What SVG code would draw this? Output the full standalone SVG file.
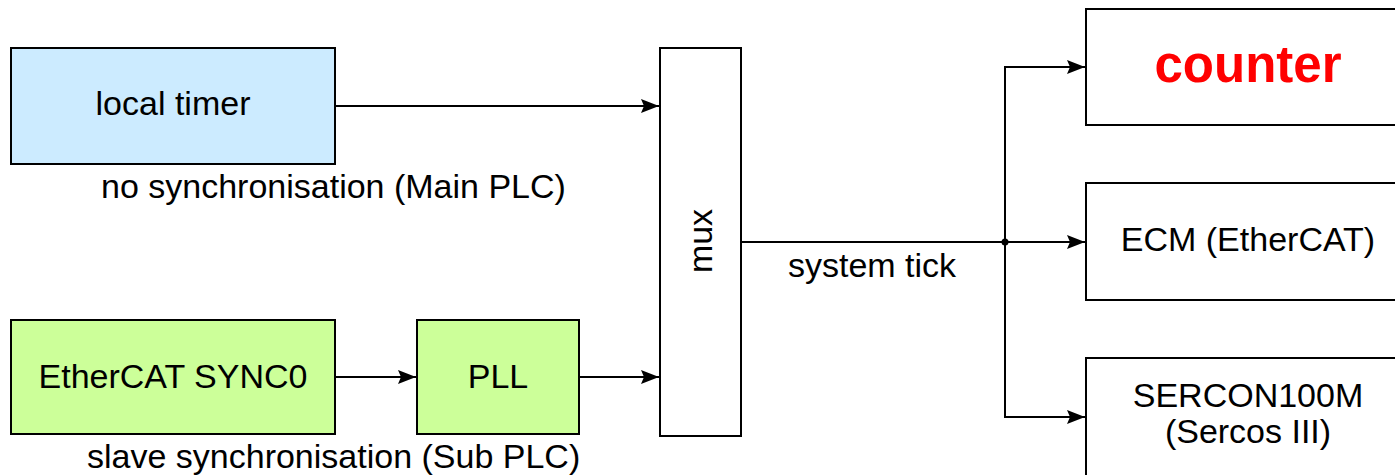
<svg xmlns="http://www.w3.org/2000/svg" width="1395" height="475" viewBox="0 0 1395 475">
<style>
.box{stroke:#000;stroke-width:2}
.t{font-family:"Liberation Sans",Arial,sans-serif;font-size:34px;fill:#000}
.c{text-anchor:middle}
.w{fill:#fff}
.line{fill:none;stroke:#000;stroke-width:2}
</style>
<defs>
<marker id="ah" viewBox="0 0 18 14" refX="18" refY="7" markerWidth="18" markerHeight="14" markerUnits="userSpaceOnUse" orient="auto">
<path d="M0,0 L18,7 L0,14 L3,7 Z" fill="#000"/>
</marker>
</defs>
<rect width="1395" height="475" fill="#fff"/>
<g id="local-timer">
<rect class="box" x="11" y="48" width="324" height="116" fill="#CCEBFF"/>
<text class="t c" x="173" y="115">local timer</text>
</g>
<text class="t" x="101" y="198">no synchronisation (Main PLC)</text>
<g id="ethercat-sync0">
<rect class="box" x="11" y="320" width="324" height="114" fill="#CCFF99"/>
<text class="t c" x="173" y="388">EtherCAT SYNC0</text>
</g>
<g id="pll">
<rect class="box" x="417" y="320" width="162" height="114" fill="#CCFF99"/>
<text class="t c" x="498" y="388">PLL</text>
</g>
<text class="t" x="87" y="468">slave synchronisation (Sub PLC)</text>
<g id="mux">
<rect class="box w" x="660" y="48" width="81" height="388"/>
<text class="t c" transform="translate(712,241) rotate(-90)">mux</text>
</g>
<g id="counter">
<rect class="box w" x="1086" y="9" width="320" height="116"/>
<text x="1248" y="82" text-anchor="middle" font-family="Liberation Sans,Arial,sans-serif" font-weight="bold" font-size="51" fill="#FF0000">counter</text>
</g>
<g id="ecm">
<rect class="box w" x="1086" y="183" width="320" height="117"/>
<text class="t c" x="1248" y="251">ECM (EtherCAT)</text>
</g>
<g id="sercon">
<rect class="box w" x="1086" y="358" width="320" height="130"/>
<text class="t c" x="1248" y="407">SERCON100M</text>
<text class="t c" x="1248" y="443">(Sercos III)</text>
</g>
<g id="connectors">
<line class="line" x1="335" y1="106" x2="659" y2="106" marker-end="url(#ah)"/>
<line class="line" x1="335" y1="377" x2="416" y2="377" marker-end="url(#ah)"/>
<line class="line" x1="579" y1="377" x2="659" y2="377" marker-end="url(#ah)"/>
<line class="line" x1="741" y1="242" x2="1085" y2="242" marker-end="url(#ah)"/>
<polyline class="line" points="1075,67 1005,67 1005,417 1075,417"/>
<line class="line" x1="1005" y1="67" x2="1085" y2="67" marker-end="url(#ah)"/>
<line class="line" x1="1005" y1="417" x2="1085" y2="417" marker-end="url(#ah)"/>
<circle cx="1005" cy="242" r="3.5" fill="#000"/>
<text class="t" x="788" y="277">system tick</text>
</g>
</svg>
